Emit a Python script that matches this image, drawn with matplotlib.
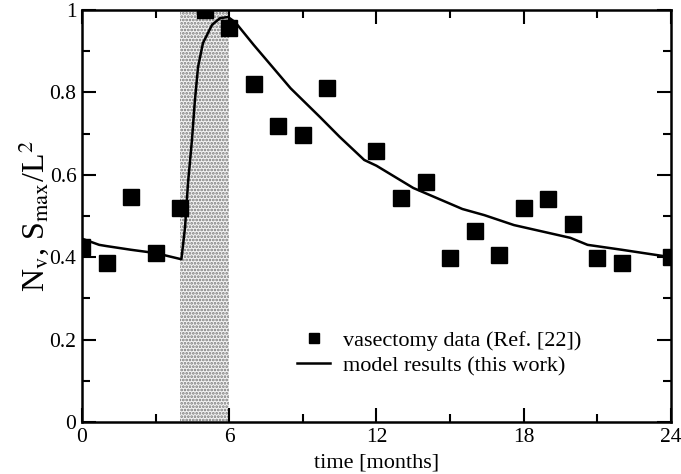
import matplotlib
matplotlib.use("Agg")
import matplotlib.pyplot as plt
from matplotlib.ticker import MultipleLocator, FuncFormatter

plt.rcParams['font.family'] = ['Liberation Serif', 'DejaVu Serif']
plt.rcParams['mathtext.fontset'] = 'stix'
plt.rcParams['hatch.linewidth'] = 1.3

# vasectomy data (Ref. [22])
data_t = [0, 1, 2, 3, 4, 5, 6, 7, 8, 9, 10, 12, 13, 14, 15, 16, 17, 18, 19, 20, 21, 22, 24]
data_y = [0.424, 0.386, 0.546, 0.41, 0.52, 1.0, 0.956, 0.82, 0.718, 0.697, 0.81,
          0.658, 0.544, 0.583, 0.398, 0.463, 0.405, 0.519, 0.541, 0.48, 0.398, 0.386, 0.40]

# model results (this work)
model_t = [0, 0.7, 1, 2, 3, 4.05, 4.08, 4.2, 4.32, 4.48, 4.6, 4.73, 4.93, 5.3, 5.62, 5.95,
           6.25, 7, 7.5, 8.5, 9.7, 10.5, 11.5, 12, 13.5, 15.5, 16.4, 17.6, 19.9, 20.6, 22, 24]
model_y = [0.445, 0.43, 0.427, 0.418, 0.41, 0.395, 0.41, 0.473, 0.58, 0.684, 0.78, 0.862,
           0.92, 0.964, 0.98, 0.983, 0.97, 0.915, 0.88, 0.81, 0.74, 0.692, 0.636, 0.622,
           0.568, 0.517, 0.502, 0.478, 0.447, 0.43, 0.418, 0.40]

# time window of the vasectomy (shaded)
window = (4, 6)

fig = plt.figure(figsize=(6.81, 4.74), dpi=100)
ax = fig.add_axes([0.1204, 0.1097, 0.8649, 0.8692])

ax.axvspan(window[0], window[1], facecolor='#f4f4f4', edgecolor='#777777',
           hatch='.....', linewidth=0, zorder=1)
ax.plot(data_t, data_y, 's', color='black', ms=11, zorder=3,
        label='vasectomy data (Ref. [22])')
ax.plot(model_t, model_y, '-', color='black', lw=1.8, zorder=2,
        label='model results (this work)')

ax.set_xlim(0, 24)
ax.set_ylim(0, 1)
ax.xaxis.set_major_locator(MultipleLocator(6))
ax.xaxis.set_minor_locator(MultipleLocator(3))
ax.yaxis.set_major_locator(MultipleLocator(0.2))
ax.yaxis.set_minor_locator(MultipleLocator(0.1))
ax.yaxis.set_major_formatter(FuncFormatter(lambda v, p: '%g' % round(v, 2)))
ax.tick_params(which='both', direction='in', top=True, right=True, labelsize=15.5,
               width=1.5, pad=4)
ax.tick_params(which='major', length=10)
ax.tick_params(which='minor', length=6)
for s in ax.spines.values():
    s.set_linewidth(1.8)

ax.set_xlabel('time [months]', fontsize=16, labelpad=5)
ax.set_ylabel(r'N$_\mathrm{v}$, S$_\mathrm{max}$/L$^2$', fontsize=23, labelpad=-1)

ax.legend(loc='upper left', bbox_to_anchor=(0.365, 0.222), frameon=False,
          fontsize=16, handlelength=1.5, handletextpad=0.55, labelspacing=0.2,
          borderpad=0, borderaxespad=0, markerscale=0.65)

fig.savefig('out.png', dpi=100)
